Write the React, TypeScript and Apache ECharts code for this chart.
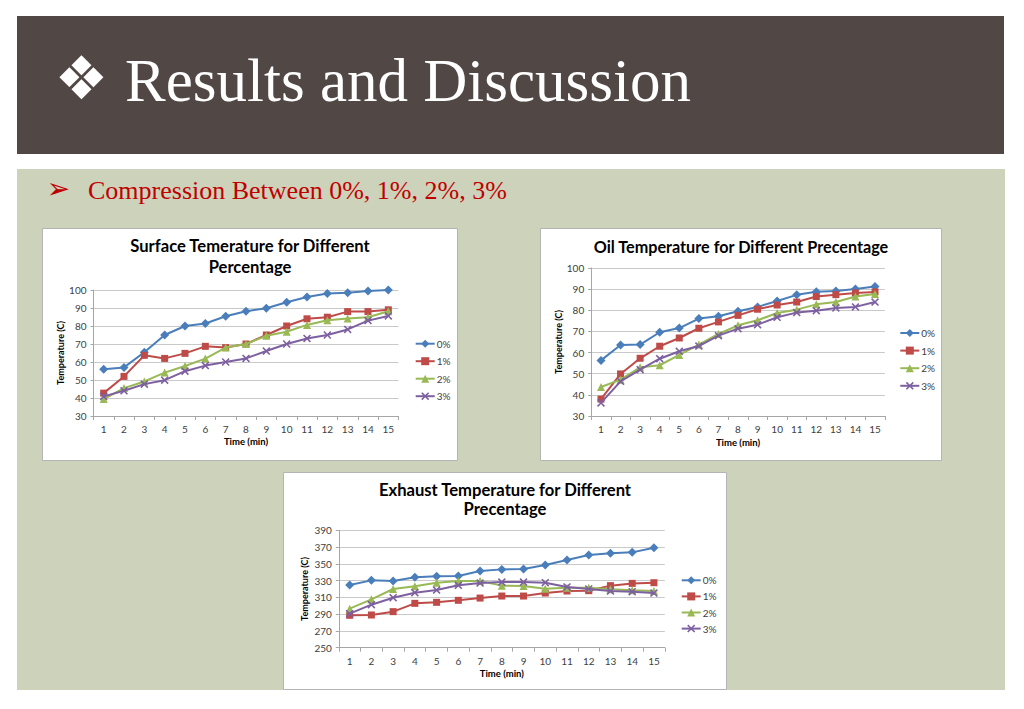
import React, { useEffect, useRef } from "react";
import * as echarts from "echarts";

const times = ["1", "2", "3", "4", "5", "6", "7", "8", "9", "10", "11", "12", "13", "14", "15"];
const pctNames = ["0%", "1%", "2%", "3%"];

const surface0 = [56, 57, 65.4, 75, 80, 81.4, 85.4, 88.2, 89.9, 93.2, 96.1, 98, 98.5, 99.4, 100];
const surface1 = [42.7, 52, 63.7, 62, 64.8, 68.7, 68, 70, 75, 80, 84, 84.9, 88, 88, 89];
const surface2 = [39.4, 45.5, 49.2, 54.1, 57.8, 61.9, 68, 70, 74.6, 76.8, 80.6, 83.2, 84.1, 84.9, 88.2];
const surface3 = [40.9, 44, 47.7, 49.9, 54.9, 58, 60, 62, 66.1, 70, 73.1, 75, 78.1, 83, 85.6];

const oil0 = [56.3, 63.6, 63.8, 69.6, 71.6, 76.1, 77.2, 79.5, 81.6, 84.4, 87.3, 88.8, 89.1, 90.1, 91.2];
const oil1 = [38, 49.9, 57.3, 63, 66.9, 71.5, 74.5, 77.6, 80.5, 82.5, 83.9, 86.5, 87.4, 88.2, 88.7];
const oil2 = [43.7, 47.2, 53, 54, 58.9, 63.8, 68.8, 72.9, 75.3, 78.7, 80.3, 82.8, 83.9, 86.5, 87.7];
const oil3 = [36.2, 46.4, 51.9, 57.1, 60.6, 63.1, 68, 71.3, 73.2, 76.7, 78.9, 79.8, 81.1, 81.6, 83.9];

const exhaust0 = [324.8, 330.3, 329.5, 333.9, 335.1, 335.5, 341.5, 343.4, 343.8, 348.6, 354.6, 360.5, 362.5, 363.7, 369.3];
const exhaust1 = [288.6, 289, 293, 302.9, 304.1, 306.5, 309.2, 311.6, 311.6, 315.2, 317.6, 318, 324, 326.7, 327.5];
const exhaust2 = [296.5, 307.7, 320, 323.2, 327.5, 329.5, 329.5, 324, 323.6, 320.4, 321.6, 321.6, 319.6, 318.4, 317.6];
const exhaust3 = [290.6, 301.3, 309.6, 315.6, 318.8, 324.4, 327.1, 328.3, 328.3, 327.5, 322.4, 320, 317.6, 316.8, 315.2];

const chartTitles = [
  "Surface Temerature for Different\nPercentage",
  "Oil Temperature for Different Precentage",
  "Exhaust Temperature for Different\nPrecentage",
];
const yAxisName = "Temperature (C)";
const xAxisName = "Time (min)";

const colors = ["#4A7EBB", "#BE4B48", "#98B954", "#7D60A0"];
const X_SYMBOL = "path://M0,1.4L1.4,0L5,3.6L8.6,0L10,1.4L6.4,5L10,8.6L8.6,10L5,6.4L1.4,10L0,8.6L3.6,5Z";
const symbols = ["diamond", "rect", "triangle", X_SYMBOL];
const symbolSizes = [9, 7, 8, 8];

const FONT = "Lato, 'Open Sans', sans-serif";

export default function App() {
  const ref = useRef<HTMLDivElement>(null);
  useEffect(() => {
    document.body.style.margin = "0";
    if (!ref.current) return;
    const chart = echarts.init(ref.current, undefined, { renderer: "svg" });

    const datasets = [
      [surface0, surface1, surface2, surface3],
      [oil0, oil1, oil2, oil3],
      [exhaust0, exhaust1, exhaust2, exhaust3],
    ];
    const grids = [
      { left: 93.5, top: 290, width: 305, height: 126 },
      { left: 591.2, top: 268, width: 293.6, height: 148 },
      { left: 338.8, top: 530.3, width: 326, height: 117.4 },
    ];
    const yRanges = [
      { min: 30, max: 100, interval: 10 },
      { min: 30, max: 100, interval: 10 },
      { min: 250, max: 390, interval: 20 },
    ];
    const yNameGaps = [26, 27.2, 30];
    const xNameGaps = [20.5, 21, 20.5];
    const legends = [
      { left: 414.7, top: 338.7, itemGap: 7.5 },
      { left: 899.3, top: 328, itemGap: 7.6 },
      { left: 680.7, top: 575.3, itemGap: 6.1 },
    ];

    const series: any[] = [];
    datasets.forEach((ds, ci) => {
      ds.forEach((vals, si) => {
        series.push({
          type: "line",
          name: pctNames[si],
          xAxisIndex: ci,
          yAxisIndex: ci,
          data: vals,
          symbol: symbols[si],
          symbolSize: symbolSizes[si],
          showAllSymbol: true,
          lineStyle: { color: colors[si], width: 2 },
          itemStyle: { color: colors[si] },
          z: 3 + si,
        });
      });
    });

    const titleTexts = [
      { x: 250, y: 235, text: chartTitles[0], lh: 21, fs: 16.6 },
      { x: 741, y: 235.5, text: chartTitles[1], lh: 21, fs: 16.2 },
      { x: 505, y: 480, text: chartTitles[2], lh: 19.6, fs: 16.6 },
    ];

    chart.setOption({
      animation: false,
      backgroundColor: "#ffffff",
      graphic: {
        elements: [
          { type: "rect", z: -10, shape: { x: 17, y: 16, width: 987, height: 138 }, style: { fill: "#514846" } },
          { type: "rect", z: -10, shape: { x: 17, y: 169, width: 988, height: 521 }, style: { fill: "#CDD2BB" } },
          { type: "rect", z: -9, shape: { x: 42.5, y: 228.5, width: 415, height: 232 }, style: { fill: "#ffffff", stroke: "#b4b4b4", lineWidth: 1 } },
          { type: "rect", z: -9, shape: { x: 540.5, y: 228.5, width: 401, height: 232 }, style: { fill: "#ffffff", stroke: "#b4b4b4", lineWidth: 1 } },
          { type: "rect", z: -9, shape: { x: 283.5, y: 472.5, width: 443, height: 217 }, style: { fill: "#ffffff", stroke: "#b4b4b4", lineWidth: 1 } },
          { type: "text", z: 10, x: 81.5, y: 78, style: { text: "❖", fill: "#ffffff", font: "60px 'DejaVu Sans'", verticalAlign: "middle", align: "center" } },
          { type: "text", z: 10, x: 125, y: 80, style: { text: "Results and Discussion", fill: "#ffffff", font: "61px 'Liberation Serif', serif", verticalAlign: "middle", align: "left" } },
          { type: "text", z: 10, x: 58.5, y: 188.5, style: { text: "➢", fill: "#C00000", font: "28px 'DejaVu Sans'", verticalAlign: "middle", align: "center" } },
          { type: "text", z: 10, x: 88, y: 190, style: { text: "Compression Between 0%, 1%, 2%, 3%", fill: "#C00000", font: "26px 'Liberation Serif', serif", verticalAlign: "middle", align: "left" } },
          ...titleTexts.map((t) => ({
            type: "text",
            z: 10,
            x: t.x,
            y: t.y,
            style: {
              text: t.text,
              fill: "#000000",
              fontFamily: FONT,
              fontWeight: "bold",
              fontSize: t.fs,
              lineHeight: t.lh,
              align: "center",
              verticalAlign: "top",
            },
          })),
        ],
      },
      grid: grids.map((g) => ({ ...g, containLabel: false })),
      xAxis: grids.map((_, i) => ({
        type: "category",
        gridIndex: i,
        data: times,
        boundaryGap: true,
        name: xAxisName,
        nameLocation: "middle",
        nameGap: xNameGaps[i],
        nameTextStyle: { fontFamily: FONT, fontWeight: "bold", fontSize: 9.5, color: "#000" },
        axisLine: { lineStyle: { color: "#a6a6a6", width: 1 } },
        axisTick: { show: true, length: 4, lineStyle: { color: "#a6a6a6" } },
        axisLabel: { fontFamily: FONT, fontSize: 10, color: "#404040", margin: 8, interval: 0 },
        splitLine: { show: false },
      })),
      yAxis: grids.map((_, i) => ({
        type: "value",
        gridIndex: i,
        min: yRanges[i].min,
        max: yRanges[i].max,
        interval: yRanges[i].interval,
        name: yAxisName,
        nameLocation: "middle",
        nameGap: yNameGaps[i],
        nameTextStyle: { fontFamily: FONT, fontWeight: "bold", fontSize: 9, color: "#000" },
        axisLine: { show: true, lineStyle: { color: "#a6a6a6", width: 1 } },
        axisTick: { show: true, length: 3, lineStyle: { color: "#a6a6a6" } },
        axisLabel: { fontFamily: FONT, fontSize: 10, color: "#404040", margin: 7 },
        splitLine: { show: true, lineStyle: { color: "#c9c9c9", width: 1 } },
      })),
      legend: legends.map((l) => ({
        orient: "vertical",
        left: l.left,
        top: l.top,
        padding: 0,
        itemGap: l.itemGap,
        itemWidth: 19,
        itemHeight: 10,
        data: pctNames,
        selectedMode: false,
        textStyle: { fontFamily: FONT, fontSize: 10, color: "#404040", lineHeight: 10, padding: [0, 0, 0, -3] },
      })),
      series,
    });
    return () => chart.dispose();
  }, []);
  return <div ref={ref} style={{ width: 1024, height: 709, position: "absolute", left: 0, top: 0 }} />;
}
